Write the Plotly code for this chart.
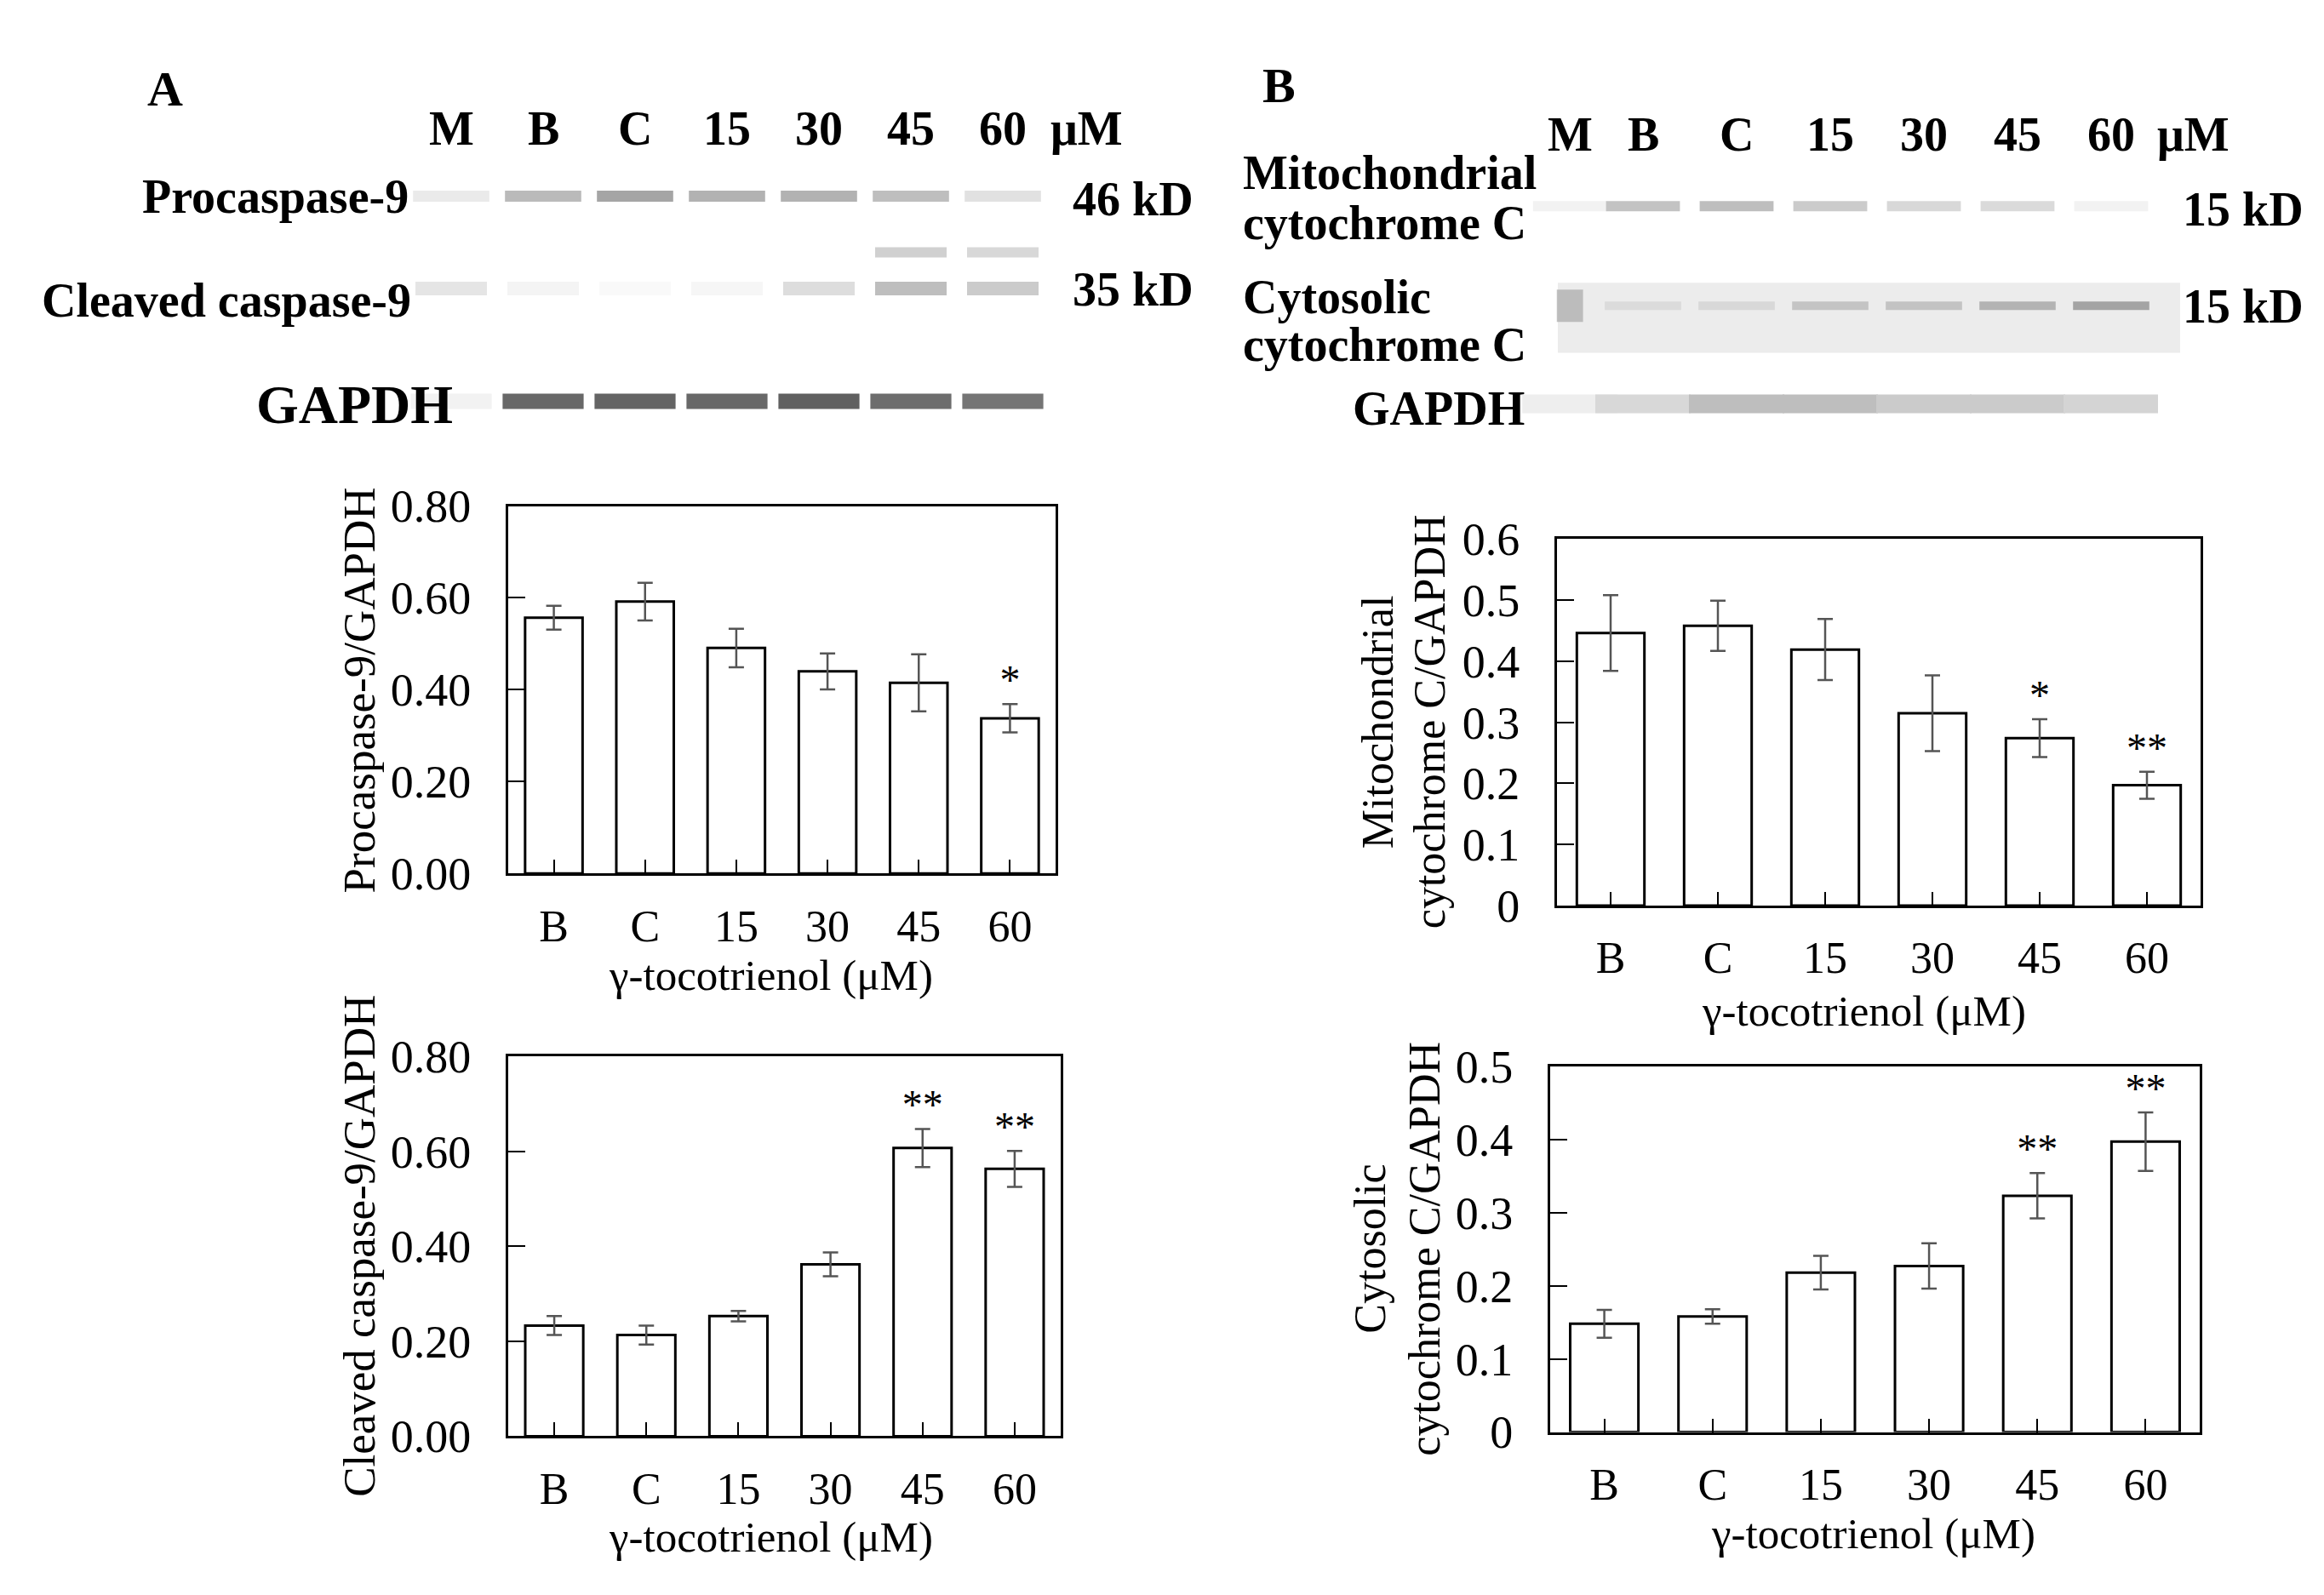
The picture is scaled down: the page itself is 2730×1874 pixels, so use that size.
import plotly.graph_objects as go

# bar chart data
CATS = ["B", "C", "15", "30", "45", "60"]

PRO9 = [0.557, 0.592, 0.491, 0.440, 0.415, 0.338]
PRO9_ERR = [0.026, 0.041, 0.042, 0.039, 0.062, 0.031]
PRO9_SIG = ["", "", "", "", "", "*"]

CLV9 = [0.233, 0.213, 0.253, 0.362, 0.607, 0.563]
CLV9_ERR = [0.020, 0.020, 0.011, 0.025, 0.040, 0.038]
CLV9_SIG = ["", "", "", "", "**", "**"]

MITO = [0.446, 0.458, 0.419, 0.315, 0.274, 0.197]
MITO_ERR = [0.062, 0.041, 0.050, 0.062, 0.031, 0.022]
MITO_SIG = ["", "", "", "", "*", "**"]

CYTO = [0.148, 0.158, 0.218, 0.227, 0.323, 0.397]
CYTO_ERR = [0.019, 0.010, 0.023, 0.031, 0.031, 0.040]
CYTO_SIG = ["", "", "", "", "**", "**"]

# western blot band intensities (0 = none, 1 = black), lanes M B C 15 30 45 60
LANES = ["M", "B", "C", "15", "30", "45", "60"]
A_PRO9_BAND = [0.10, 0.32, 0.42, 0.36, 0.36, 0.30, 0.14]
A_CLV9_UPPER = [0.0, 0.0, 0.0, 0.0, 0.0, 0.22, 0.18]
A_CLV9_LOWER = [0.12, 0.05, 0.03, 0.04, 0.16, 0.30, 0.24]
A_GAPDH_BAND = [0.06, 0.70, 0.72, 0.70, 0.74, 0.68, 0.64]
B_MITO_BAND = [0.06, 0.28, 0.30, 0.24, 0.18, 0.17, 0.06]
B_CYTO_BAND = [0.40, 0.20, 0.22, 0.35, 0.36, 0.46, 0.56]
B_GAPDH_BAND = [0.08, 0.18, 0.30, 0.30, 0.24, 0.24, 0.20]

W, H = 2730, 1874
FONT = "Liberation Serif"

# lane slots on the blot axes (layout only)
LANE_POS_A = [0, 1, 2, 3, 4, 5, 6]
LANE_POS_B = [0.22, 1, 2, 3, 4, 5, 6]


def px(x, y):
    return x / W, 1 - y / H


def gray(level):
    v = int(round(255 - 215 * level))
    return f"rgb({v},{v},{v})"


fig = go.Figure()

# ---------- bar charts ----------
charts = [
    (1, PRO9, PRO9_ERR, PRO9_SIG, (589, 576, 1232, 1022), [0, 0.8], 0.2, ".2f"),
    (2, CLV9, CLV9_ERR, CLV9_SIG, (589, 1244, 1238, 1705), [0, 0.8], 0.2, ".2f"),
    (3, MITO, MITO_ERR, MITO_SIG, (1821, 616, 2577, 1061), [0, 0.6], 0.1, ""),
    (4, CYTO, CYTO_ERR, CYTO_SIG, (1813, 1256, 2576, 1700), [0, 0.5], 0.1, ""),
]

layout_axes = {}
for n, vals, errs, sig, box, yr, dt, fmt in charts:
    xa = "x" if n == 1 else f"x{n}"
    ya = "y" if n == 1 else f"y{n}"
    fig.add_trace(go.Bar(
        x=CATS, y=vals, xaxis=xa, yaxis=ya, width=0.63,
        marker=dict(color="white", line=dict(color="black", width=3)),
        error_y=dict(type="data", array=errs, color="#555555",
                     thickness=2.5, width=9),
        showlegend=False,
    ))
    tops = [v + e for v, e in zip(vals, errs)]
    fig.add_trace(go.Scatter(
        x=CATS, y=tops, xaxis=xa, yaxis=ya, mode="text", text=sig,
        textposition="top center",
        textfont=dict(family=FONT, size=48, color="black"),
        showlegend=False,
    ))
    x0, y0, x1, y1 = box
    sfx = "" if n == 1 else str(n)
    layout_axes["xaxis" + sfx] = dict(
        domain=[x0 / W, x1 / W], anchor=ya, type="category",
        range=[-0.5, 5.5], showline=True, linecolor="black", linewidth=3,
        mirror=True, ticks="inside", ticklen=16, tickwidth=2,
        tickcolor="black", ticklabelstandoff=14,
        tickfont=dict(family=FONT, size=52, color="black"),
        showgrid=False, zeroline=False,
    )
    layout_axes["yaxis" + sfx] = dict(
        domain=[1 - y1 / H, 1 - y0 / H], anchor=xa, range=yr, dtick=dt,
        tickformat=fmt, showline=True, linecolor="black", linewidth=3,
        mirror=True, ticks="inside", ticklen=20, tickwidth=2,
        tickcolor="black", ticklabelstandoff=30,
        tickfont=dict(family=FONT, size=54, color="black"),
        showgrid=False, zeroline=False,
    )

# ---------- blots ----------
blot_rows = [
    ("x5", "y5", LANE_POS_A, A_PRO9_BAND, 200, 64, 13),
    ("x5", "y5", LANE_POS_A, A_CLV9_UPPER, 268, 60, 12),
    ("x5", "y5", LANE_POS_A, A_CLV9_LOWER, 312, 60, 16),
    ("x5", "y5", LANE_POS_A, A_GAPDH_BAND, 449, 68, 18),
    ("x6", "y6", LANE_POS_B, B_MITO_BAND, 212, 62, 12),
    ("x6", "y6", LANE_POS_B, B_CYTO_BAND, 333,
     [22, 64, 64, 64, 64, 64, 64], [38, 10, 10, 10, 10, 10, 10]),
    ("x6", "y6", LANE_POS_B, B_GAPDH_BAND, 452, 80, 22),
]
for xa, ya, pos, band, yrow, bw, bt in blot_rows:
    fig.add_trace(go.Scatter(
        x=pos, y=[yrow] * len(pos), xaxis=xa, yaxis=ya,
        mode="markers", hoverinfo="skip", showlegend=False,
        marker=dict(symbol="line-ew", size=bw,
                    line=dict(color=[gray(b) for b in band], width=bt)),
    ))

layout_axes["xaxis5"] = dict(domain=[468 / W, 1224 / W], range=[-0.5, 6.5],
                             anchor="y5", visible=False)
layout_axes["yaxis5"] = dict(domain=[0, 1], range=[H, 0], anchor="x5",
                             visible=False)
layout_axes["xaxis6"] = dict(domain=[1757 / W, 2527 / W], range=[-0.5, 6.5],
                             anchor="y6", visible=False)
layout_axes["yaxis6"] = dict(domain=[0, 1], range=[H, 0], anchor="x6",
                             visible=False)

# ---------- text ----------
ann = []


def text(x, y, s, size=56, bold=True, xanchor="center", angle=0):
    xx, yy = px(x, y)
    ann.append(dict(
        x=xx, y=yy, xref="paper", yref="paper", text=f"<b>{s}</b>" if bold else s,
        showarrow=False, xanchor=xanchor, yanchor="middle", textangle=angle,
        font=dict(family=FONT, size=size, color="black"),
    ))


text(186, 70, "A", size=58)
text(1494, 66, "B", size=58)

# lane labels
for i, lane in enumerate(LANES):
    ann.append(dict(x=LANE_POS_A[i], y=118, xref="x5", yref="y5",
                    text=f"<b>{lane}</b>", showarrow=False,
                    font=dict(family=FONT, size=56, color="black")))
    ann.append(dict(x=LANE_POS_B[i], y=125, xref="x6", yref="y6",
                    text=f"<b>{lane}</b>", showarrow=False,
                    font=dict(family=FONT, size=56, color="black")))
text(1268, 118, "μM")
text(2568, 125, "μM")

text(474, 200, "Procaspase-9", xanchor="right")
text(477, 326, "Cleaved caspase-9", xanchor="right")
text(526, 453, "GAPDH", size=64, xanchor="right")
text(1250, 204, "46 kD", xanchor="left")
text(1250, 313, "35 kD", xanchor="left")

text(1450, 171, "Mitochondrial", xanchor="left")
text(1450, 232, "cytochrome C", xanchor="left")
text(1450, 322, "Cytosolic", xanchor="left")
text(1450, 380, "cytochrome C", xanchor="left")
text(1785, 458, "GAPDH", xanchor="right")
text(2554, 216, "15 kD", xanchor="left")
text(2554, 334, "15 kD", xanchor="left")

# axis titles
text(414, 799, "Procaspase-9/GAPDH", size=53, bold=False, angle=-90)
text(414, 1474, "Cleaved caspase-9/GAPDH", size=53, bold=False, angle=-90)
text(1610, 838, "Mitochondrial", size=52, bold=False, angle=-90)
text(1671, 838, "cytochrome C/GAPDH", size=52, bold=False, angle=-90)
text(1602, 1478, "Cytosolic", size=52, bold=False, angle=-90)
text(1666, 1478, "cytochrome C/GAPDH", size=52, bold=False, angle=-90)
text(897, 1146, "γ-tocotrienol (μM)", size=51, bold=False)
text(897, 1828, "γ-tocotrienol (μM)", size=51, bold=False)
text(2181, 1189, "γ-tocotrienol (μM)", size=51, bold=False)
text(2192, 1823, "γ-tocotrienol (μM)", size=51, bold=False)

# light background of the cytosolic blot strip
shapes = [dict(type="rect", xref="paper", yref="paper",
               x0=1822 / W, x1=2553 / W, y0=1 - 390 / H, y1=1 - 305 / H,
               fillcolor="#ececec", line=dict(width=0), layer="below")]

fig.update_layout(
    width=W, height=H, margin=dict(l=0, r=0, t=0, b=0),
    paper_bgcolor="white", plot_bgcolor="rgba(0,0,0,0)",
    annotations=ann, shapes=shapes,
    **layout_axes,
)

fig.write_html("out.html")
